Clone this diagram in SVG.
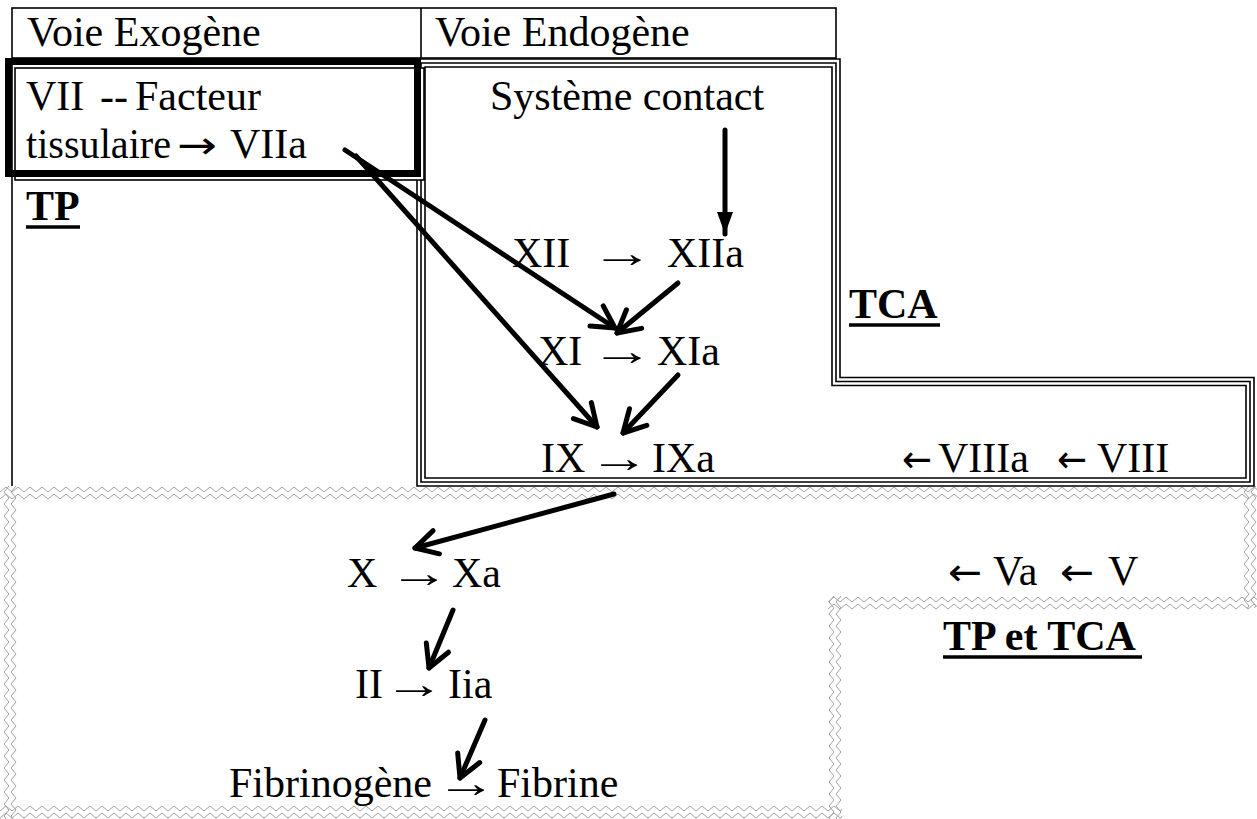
<svg xmlns="http://www.w3.org/2000/svg" width="1257" height="819" viewBox="0 0 1257 819">
  <style>
    .t { font-family: "Liberation Serif", "Times New Roman", serif; font-size: 42px; fill: #000; }
    .b { font-weight: bold; }
    .ar { font-family: "DejaVu Sans", "Liberation Sans", sans-serif; font-size: 38px; fill: #000; }
    .thin { fill: none; stroke: #000; stroke-width: 1.6; }
    .conn { fill: none; stroke: #000; stroke-width: 5; stroke-linecap: round; }
    .ul { stroke: #000; stroke-width: 3.5; }
  </style>
  <defs>
    <marker id="chev" viewBox="-28 -16 34 32" refX="0" refY="0" markerWidth="34" markerHeight="32" markerUnits="userSpaceOnUse" orient="auto" overflow="visible">
      <path d="M-22,-12 L0,0 L-22,12" fill="none" stroke="#000" stroke-width="5" stroke-linecap="round" stroke-linejoin="round"/>
    </marker>
    <marker id="tri" viewBox="-26 -12 30 24" refX="0" refY="0" markerWidth="30" markerHeight="24" markerUnits="userSpaceOnUse" orient="auto" overflow="visible">
      <path d="M-22,-8 L0,0 L-22,8 Z" fill="#000"/>
    </marker>
    <!-- double zigzag art border, horizontal and vertical runs -->
    <pattern id="zzh" patternUnits="userSpaceOnUse" width="12" height="14">
      <path d="M0,6 L6,1 L12,6 M0,13 L6,8 L12,13" fill="none" stroke="#a0a0a0" stroke-width="1"/>
    </pattern>
    <pattern id="zzv" patternUnits="userSpaceOnUse" width="14" height="12">
      <path d="M6,0 L1,6 L6,12 M13,0 L8,6 L13,12" fill="none" stroke="#a0a0a0" stroke-width="1"/>
    </pattern>
  </defs>

  <!-- lower zigzag frame (common pathway) -->
  <g id="frame-common">
    <g transform="translate(0,486)"><rect width="1257" height="14" fill="url(#zzh)"/></g>
    <g transform="translate(828,596)"><rect width="429" height="14" fill="url(#zzh)"/></g>
    <g transform="translate(0,805)"><rect width="842" height="14" fill="url(#zzh)"/></g>
    <g transform="translate(3,486)"><rect width="14" height="333" fill="url(#zzv)"/></g>
    <g transform="translate(1243,486)"><rect width="14" height="122" fill="url(#zzv)"/></g>
    <g transform="translate(828,596)"><rect width="14" height="223" fill="url(#zzv)"/></g>
  </g>

  <!-- header table -->
  <g id="table">
    <rect class="thin" x="12" y="8" width="824" height="50"/>
    <line class="thin" x1="421" y1="8" x2="421" y2="58"/>
    <line class="thin" x1="12" y1="58" x2="12" y2="486"/>
    <text class="t" x="27" y="46">Voie Exogène</text>
    <text class="t" x="435" y="46">Voie Endogène</text>
  </g>

  <!-- triple-line frame of the intrinsic pathway -->
  <g id="frame-intrinsic">
    <path class="thin" d="M417,59 H840 V377.5 H1254 V486 H417 Z"/>
    <path class="thin" d="M421,63 H836 V381.5 H1250 V482 H421 Z"/>
    <path class="thin" d="M425,67 H832 V385.5 H1246 V478 H425 Z"/>
  </g>

  <!-- extrinsic pathway box -->
  <g id="node-exo">
    <rect x="15" y="68" width="409" height="112" fill="#fff" stroke="#000" stroke-width="1.6"/>
    <rect x="8.5" y="61.5" width="409" height="112" fill="none" stroke="#000" stroke-width="7"/>
    <text class="t" x="26" y="110">VII</text>
    <text class="t" x="100" y="110">--</text>
    <text class="t" x="135" y="110">Facteur</text>
    <text class="t" x="26" y="158" textLength="145" lengthAdjust="spacingAndGlyphs">tissulaire</text>
    <text class="ar" x="177" y="158" textLength="40" lengthAdjust="spacingAndGlyphs">→</text>
    <text class="t" x="230" y="158">VIIa</text>
  </g>

  <g id="label-tp">
    <text class="t b" x="26" y="220">TP</text>
    <line class="ul" x1="26" y1="227" x2="80" y2="227"/>
  </g>

  <g id="node-contact">
    <text class="t" x="490" y="110">Système contact</text>
  </g>

  <g id="node-xii">
    <text class="t" x="512" y="267">XII</text>
    <text class="t" transform="translate(591,267) scale(1.5,1)">→</text>
    <text class="t" x="667" y="267">XIIa</text>
  </g>

  <g id="label-tca">
    <text class="t b" x="849" y="318">TCA</text>
    <line class="ul" x1="849" y1="325" x2="940" y2="325"/>
  </g>

  <g id="node-xi">
    <text class="t" x="538" y="365">XI</text>
    <text class="t" transform="translate(591,365) scale(1.5,1)">→</text>
    <text class="t" x="657" y="365">XIa</text>
  </g>

  <g id="node-ix">
    <text class="t" x="541" y="472">IX</text>
    <text class="t" transform="translate(589,472) scale(1.45,1)">→</text>
    <text class="t" x="652" y="472">IXa</text>
  </g>

  <g id="node-viii">
    <text class="ar" x="902" y="472" textLength="30" lengthAdjust="spacingAndGlyphs">←</text>
    <text class="t" x="938" y="472">VIIIa</text>
    <text class="ar" x="1057" y="472" textLength="30" lengthAdjust="spacingAndGlyphs">←</text>
    <text class="t" x="1097" y="472">VIII</text>
  </g>

  <g id="node-x">
    <text class="t" x="347" y="587">X</text>
    <text class="t" transform="translate(389,587) scale(1.45,1)">→</text>
    <text class="t" x="452" y="587">Xa</text>
  </g>

  <g id="node-v">
    <text class="ar" x="948" y="585" textLength="34" lengthAdjust="spacingAndGlyphs">←</text>
    <text class="t" x="993" y="585">Va</text>
    <text class="ar" x="1060" y="585" textLength="34" lengthAdjust="spacingAndGlyphs">←</text>
    <text class="t" x="1108" y="585">V</text>
  </g>

  <g id="label-tp-tca">
    <text class="t b" x="943" y="650">TP et TCA</text>
    <line class="ul" x1="943" y1="657" x2="1142" y2="657"/>
  </g>

  <g id="node-ii">
    <text class="t" x="355" y="698">II</text>
    <text class="t" transform="translate(384,698) scale(1.45,1)">→</text>
    <text class="t" x="448" y="698">Iia</text>
  </g>

  <g id="node-fibrin">
    <text class="t" x="229" y="797">Fibrinogène</text>
    <text class="t" transform="translate(436,797) scale(1.45,1)">→</text>
    <text class="t" x="497" y="797">Fibrine</text>
  </g>

  <!-- activation arrows -->
  <g id="connectors">
    <line class="conn" x1="725" y1="130" x2="725" y2="234" marker-end="url(#tri)"/>
    <line class="conn" x1="345" y1="150" x2="615" y2="328" marker-end="url(#chev)"/>
    <line class="conn" x1="356" y1="156" x2="597" y2="427" marker-end="url(#chev)"/>
    <line class="conn" x1="678" y1="283" x2="617" y2="333" marker-end="url(#chev)"/>
    <line class="conn" x1="678" y1="375" x2="623" y2="433" marker-end="url(#chev)"/>
    <line class="conn" x1="614" y1="494" x2="415" y2="548" marker-end="url(#chev)"/>
    <line class="conn" x1="453" y1="610" x2="429" y2="668" marker-end="url(#chev)"/>
    <line class="conn" x1="485" y1="720" x2="460" y2="778" marker-end="url(#chev)"/>
  </g>
</svg>
